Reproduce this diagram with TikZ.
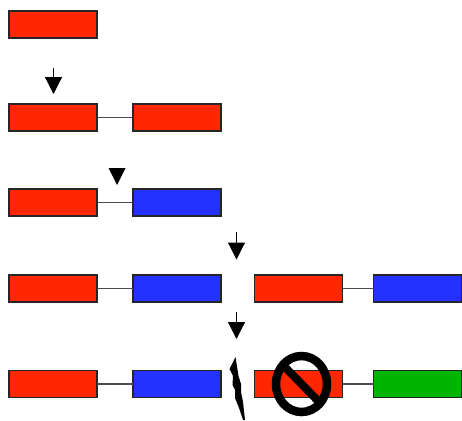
\documentclass[tikz,border=0pt]{standalone}
\usetikzlibrary{arrows.meta}
\usetikzlibrary{positioning}
\usepackage{xcolor}

\definecolor{exonred}{RGB}{255,38,0}
\definecolor{exonblue}{RGB}{36,50,255}
\definecolor{exongreen}{RGB}{0,180,0}

\tikzset{
    exon/.style={draw=black!85, line width=1.7pt, minimum width=88pt, minimum height=27pt, inner sep=0pt, outer sep=0pt},
    redexon/.style={exon, fill=exonred},
    blueexon/.style={exon, fill=exonblue},
    greenexon/.style={exon, fill=exongreen},
    link/.style={draw=black!70, line width=1.8pt},
    down/.style={black, line width=1.2pt, -{Triangle[width=17pt,length=17pt]}}
}

\begin{document}
\begin{tikzpicture}[x=1pt,y=-1pt]
    \useasboundingbox (0,0) rectangle (462,420);

    % first row
    \node[redexon] (a) at (53,24.5) {};

    % second row
    \node[redexon] (b1) at (53,117.5) {};
    \node[redexon, right=36pt of b1] (b2) {};
    \draw[link] (b1) -- (b2);

    % third row
    \node[redexon] (c1) at (53,202.5) {};
    \node[blueexon, right=36pt of c1] (c2) {};
    \draw[link] (c1) -- (c2);

    % fourth row
    \node[redexon] (d1) at (53,288.5) {};
    \node[blueexon, right=36pt of d1] (d2) {};
    \draw[link] (d1) -- (d2);
    \node[redexon, right=33.5pt of d2] (d3) {};
    \node[blueexon, right=31pt of d3] (d4) {};
    \draw[link] (d3) -- (d4);

    % fifth row
    \node[redexon] (e1) at (53,384) {};
    \node[blueexon, right=36pt of e1] (e2) {};
    \draw[link] (e1) -- (e2);
    \node[redexon, right=33.5pt of e2] (e3) {};
    \node[greenexon, right=31pt of e3] (e4) {};
    \draw[link] (e3) -- (e4);

    % arrows
    \coordinate (s1) at (53.5,68);
    \coordinate (t1) at (53.5,94);
    \draw[down] (s1) -- (t1);
    \coordinate (s2) at (236.5,232);
    \coordinate (t2) at (236.5,259.5);
    \draw[down] (s2) -- (t2);
    \coordinate (s3) at (236.5,312);
    \coordinate (t3) at (236.5,339);
    \draw[down] (s3) -- (t3);

    % cut
    \fill[black] (108.5,168) -- (125.5,168) -- (117,185) -- cycle;

    % bolt
    \fill[black] (235.5,357) -- (229.5,369) -- (233,376) -- (232.5,385)
        -- (235,390) -- (235,398) -- (239,408) -- (243,420)
        -- (245,420) -- (243,402) -- (241,392) -- (241,384) -- (238.5,376) -- cycle;

    % blocked
    \draw[black, line width=8.5pt] (301.5,384) ellipse [x radius=25.5, y radius=28];
    \draw[black, line width=8pt] (282,364) -- (321,404);
\end{tikzpicture}
\end{document}
